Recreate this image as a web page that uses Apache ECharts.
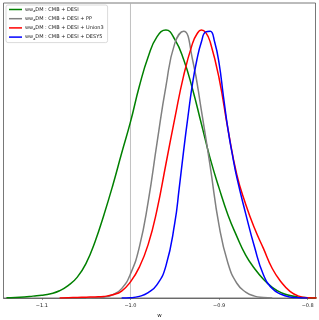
<!DOCTYPE html>
<html><head><meta charset="utf-8">
<script src="https://cdn.jsdelivr.net/npm/echarts@6/dist/echarts.min.js"></script>
<style>html,body{margin:0;padding:0;background:#fff}#c{width:319px;height:320px}</style>
</head><body><div id="c"></div>
<script>
const xTicks = [-1.1, -1.0, -0.9, -0.8];
const seriesNames = ['CMB + DESI', 'CMB + DESI + PP', 'CMB + DESI + Union3', 'CMB + DESI + DESY5'];

const wGreen = [-1.14,-1.13,-1.12,-1.11,-1.10,-1.09,-1.08,-1.07,-1.06,-1.05,-1.04,-1.03,-1.02,-1.01,-1.00,-0.99,-0.98,-0.97,-0.96,-0.95,-0.94,-0.93,-0.92,-0.91,-0.90,-0.89,-0.88,-0.87,-0.86,-0.85,-0.84,-0.83,-0.82,-0.81,-0.80,-0.79];
const dGreen = [0.001,0.002,0.004,0.007,0.010,0.016,0.027,0.047,0.078,0.13,0.21,0.31,0.42,0.54,0.657,0.79,0.90,0.975,1.0,0.965,0.89,0.78,0.65,0.52,0.41,0.31,0.23,0.16,0.11,0.07,0.04,0.02,0.009,0.003,0.001,0];

const wGray = [-1.05,-1.04,-1.03,-1.02,-1.01,-1.00,-0.99,-0.98,-0.97,-0.96,-0.95,-0.94,-0.93,-0.92,-0.91,-0.90,-0.89,-0.88,-0.87,-0.86,-0.85,-0.84];
const dGray = [0,0.001,0.003,0.012,0.035,0.09,0.19,0.36,0.58,0.79,0.95,0.995,0.89,0.70,0.49,0.27,0.13,0.055,0.022,0.007,0.002,0];

const wRed = [-1.08,-1.07,-1.06,-1.05,-1.04,-1.03,-1.02,-1.01,-1.00,-0.99,-0.98,-0.97,-0.96,-0.95,-0.94,-0.93,-0.925,-0.92,-0.915,-0.91,-0.90,-0.89,-0.88,-0.87,-0.86,-0.85,-0.84,-0.83,-0.82,-0.81,-0.80,-0.79];
const dRed = [0,0.001,0.002,0.003,0.004,0.006,0.012,0.026,0.06,0.115,0.20,0.33,0.50,0.67,0.83,0.95,0.985,1.0,0.99,0.955,0.82,0.63,0.46,0.35,0.26,0.185,0.11,0.06,0.025,0.007,0.001,0];

const wBlue = [-1.01,-1.00,-0.99,-0.98,-0.97,-0.96,-0.95,-0.945,-0.94,-0.935,-0.93,-0.925,-0.92,-0.915,-0.91,-0.905,-0.90,-0.895,-0.89,-0.885,-0.88,-0.87,-0.86,-0.85,-0.84,-0.83,-0.82,-0.81,-0.80];
const dBlue = [0,0.001,0.006,0.02,0.05,0.12,0.28,0.41,0.55,0.68,0.80,0.89,0.955,0.993,0.995,0.955,0.875,0.75,0.63,0.535,0.45,0.315,0.19,0.087,0.035,0.014,0.004,0.001,0];

const refLine = [-1.0];

const zip = (a, b) => a.map((v, i) => [v, b[i]]);
const colors = ['#008000', '#808080', '#ff0000', '#0000ff'];
const sets = [[wGreen,dGreen],[wGray,dGray],[wRed,dRed],[wBlue,dBlue]];
const YMAX = 1.1007;

const series = sets.map((s, i) => ({
  name: seriesNames[i], type: 'line', data: zip(s[0], s[1]),
  smooth: 0.5, showSymbol: false, symbol: 'none',
  lineStyle: { color: colors[i], width: 1.5 }, itemStyle: { color: colors[i] },
  z: 3 + i, silent: true
}));
series.unshift({
  name: 'ref', type: 'line', data: [[refLine[0], 0], [refLine[0], YMAX]],
  showSymbol: false, symbol: 'none', lineStyle: { color: '#b0b0b0', width: 0.8 }, z: 2, silent: true
});

const chart = echarts.init(document.getElementById('c'), null, { renderer: 'canvas' });
chart.setOption({
  animation: false,
  grid: { left: 3.5, right: 3.5, top: 3, bottom: 22, show: true, borderColor: '#555', borderWidth: 0.8,
    containLabel: false, outerBoundsMode: 'none' },
  legend: {
    data: seriesNames, left: 6, top: 5, orient: 'vertical',
    itemWidth: 13, itemHeight: 1.5, itemGap: 3.2, icon: 'rect',
    padding: [2, 4, 2, 3],
    backgroundColor: '#fff', borderColor: '#d0d0d0', borderWidth: 0.8, borderRadius: 2,
    formatter: n => 'ww{s|a}DM : ' + n,
    textStyle: { fontSize: 5, color: '#222', fontFamily: 'DejaVu Sans', padding: [0,0,0,-2],
      rich: { s: { fontSize: 3.5, verticalAlign: 'bottom', padding: [3,0,0,0], color: '#222' } } }
  },
  xAxis: {
    type: 'value', min: -1.1433, max: -0.7912,
    name: 'w', nameLocation: 'middle', nameGap: 15,
    nameTextStyle: { fontSize: 5.5, color: '#222', fontFamily: 'DejaVu Sans' },
    axisLine: { show: true, lineStyle: { color: '#555', width: 0.8 } },
    axisTick: { show: true, length: 2, lineStyle: { color: '#555', width: 0.6 }, customValues: xTicks },
    axisLabel: { fontSize: 5, color: '#222', margin: 5, fontFamily: 'DejaVu Sans', customValues: xTicks,
      formatter: v => (v < 0 ? '\u2212' : '') + Math.abs(v).toFixed(1) },
    splitLine: { show: false }
  },
  yAxis: { type: 'value', min: 0, max: YMAX, show: false, splitLine: { show: false } },
  series
});
</script></body></html>
